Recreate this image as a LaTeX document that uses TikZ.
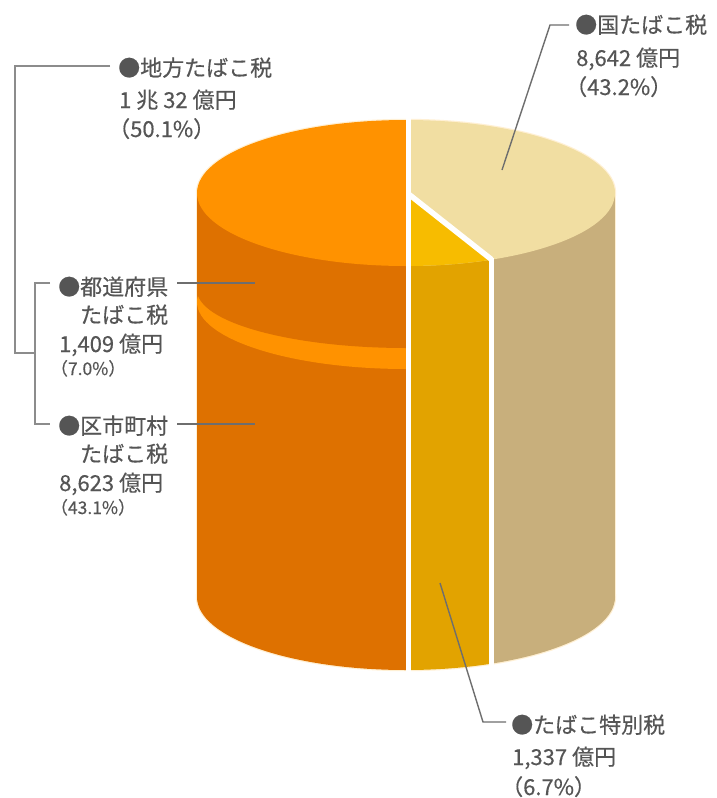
\documentclass[tikz,border=0pt]{standalone}
\usepackage{fontspec}
\setmainfont{Noto Sans CJK JP}[FakeBold=0.35]
\definecolor{ortop}{RGB}{255,146,0}
\definecolor{orbody}{RGB}{222,113,0}
\definecolor{yltop}{RGB}{247,188,0}
\definecolor{ylbody}{RGB}{226,163,0}
\definecolor{tntop}{RGB}{241,222,162}
\definecolor{tnbody}{RGB}{200,175,124}
\definecolor{txt}{RGB}{85,85,85}
\definecolor{lead}{RGB}{110,110,110}
\definecolor{brk}{RGB}{140,140,140}
\definecolor{rim}{RGB}{255,240,212}
\begin{document}
\begin{tikzpicture}[x=1pt,y=-1pt,
  lbl/.style={anchor=base west,inner sep=0pt,text=txt,font=\fontsize{22}{26}\selectfont},
  lblsm/.style={anchor=base west,inner sep=0pt,text=txt,font=\fontsize{17.5}{20}\selectfont},
  leader/.style={draw=lead,line width=1.4pt},
  bracket/.style={draw=brk,line width=2.2pt},
  gap/.style={draw=white,line width=5.5pt}]
\useasboundingbox (0,0) rectangle (717,798);
\fill[white] (0,0) rectangle (717,798);

% ---- soft rim ----
\draw[rim,line width=2.4pt] (406,193) ellipse [x radius=209,y radius=73];
\draw[rim,line width=2.4pt] (406,597) ellipse [x radius=209,y radius=73];
\draw[rim,line width=2.4pt] (197,193) rectangle (615,597);

% ---- cylinder body ----
\begin{scope}
  \clip (0,0) rectangle (408.5,798);
  \fill[orbody] (197,193) rectangle (615,597);
  \fill[orbody] (406,597) ellipse [x radius=209,y radius=73];
  \fill[ortop] (406,302) ellipse [x radius=209,y radius=67];
  \fill[orbody] (406,290) ellipse [x radius=209,y radius=58];
\end{scope}
\begin{scope}
  \clip (408.5,0) rectangle (491.5,798);
  \fill[ylbody] (197,193) rectangle (615,597);
  \fill[ylbody] (406,597) ellipse [x radius=209,y radius=73];
\end{scope}
\begin{scope}
  \clip (491.5,0) rectangle (717,798);
  \fill[tnbody] (197,193) rectangle (615,597);
  \fill[tnbody] (406,597) ellipse [x radius=209,y radius=73];
\end{scope}

% ---- top face ----
\begin{scope}
  \clip (406,193) ellipse [x radius=209,y radius=73];
  \fill[ortop] (180,100) rectangle (408.5,300);
  \fill[tntop] (408.5,100) rectangle (640,300);
  \fill[yltop] (408.5,194) -- (491.5,259.5) -- (491.5,300) -- (408.5,300) -- cycle;
\end{scope}

% ---- gaps ----
\draw[gap] (408.5,110) -- (408.5,685);
\draw[gap] (408.5,194) -- (491.5,259.5);
\draw[gap] (491.5,258) -- (491.5,685);

% ---- labels ----
\node[lbl] (chi1) at (118,76) {●地方たばこ税};
\node[lbl] (chi2) at (119,108) {1 兆 32 億円};
\node[lbl] (chi3) at (119,137) {\kern-0.5em（50.1\%）};

\node[lbl] (kun1) at (575,33) {●国たばこ税};
\node[lbl] (kun2) at (576,66) {8,642 億円};
\node[lbl] (kun3) at (576,95) {\kern-0.5em（43.2\%）};

\node[lbl] (tok1) at (511,733) {●たばこ特別税};
\node[lbl] (tok2) at (512,765) {1,337 億円};
\node[lbl] (tok3) at (512,795) {\kern-0.5em（6.7\%）};

\node[lbl] (tod1) at (58,295) {●都道府県};
\node[lbl] (tod2) at (58,323) {　たばこ税};
\node[lbl] (tod3) at (59,352) {1,409 億円};
\node[lblsm] (tod4) at (59,375) {\kern-0.5em（7.0\%）};

\node[lbl] (ku1) at (58,434) {●区市町村};
\node[lbl] (ku2) at (58,462) {　たばこ税};
\node[lbl] (ku3) at (59,491) {8,623 億円};
\node[lblsm] (ku4) at (59,514) {\kern-0.5em（43.1\%）};

% ---- leaders ----
\coordinate (k1) at (569,25); \coordinate (k2) at (550,25); \coordinate (k3) at (502,170);
\draw[leader] (k1) -- (k2) -- (k3);
\coordinate (s1) at (440,583); \coordinate (s2) at (483,722); \coordinate (s3) at (506,722);
\draw[leader] (s1) -- (s2) -- (s3);
\coordinate (p1) at (177,283); \coordinate (p2) at (255,283);
\draw[leader] (p1) -- (p2);
\coordinate (m1) at (177,424); \coordinate (m2) at (255,424);
\draw[leader] (m1) -- (m2);

% ---- brackets ----
\coordinate (b1) at (110,66); \coordinate (b2) at (15,66); \coordinate (b3) at (15,353); \coordinate (b4) at (35,353);
\draw[bracket] (b1) -- (b2) -- (b3) -- (b4);
\coordinate (i1) at (50,283); \coordinate (i2) at (35,283); \coordinate (i3) at (35,424); \coordinate (i4) at (50,424);
\draw[bracket] (i1) -- (i2) -- (i3) -- (i4);
\end{tikzpicture}
\end{document}
